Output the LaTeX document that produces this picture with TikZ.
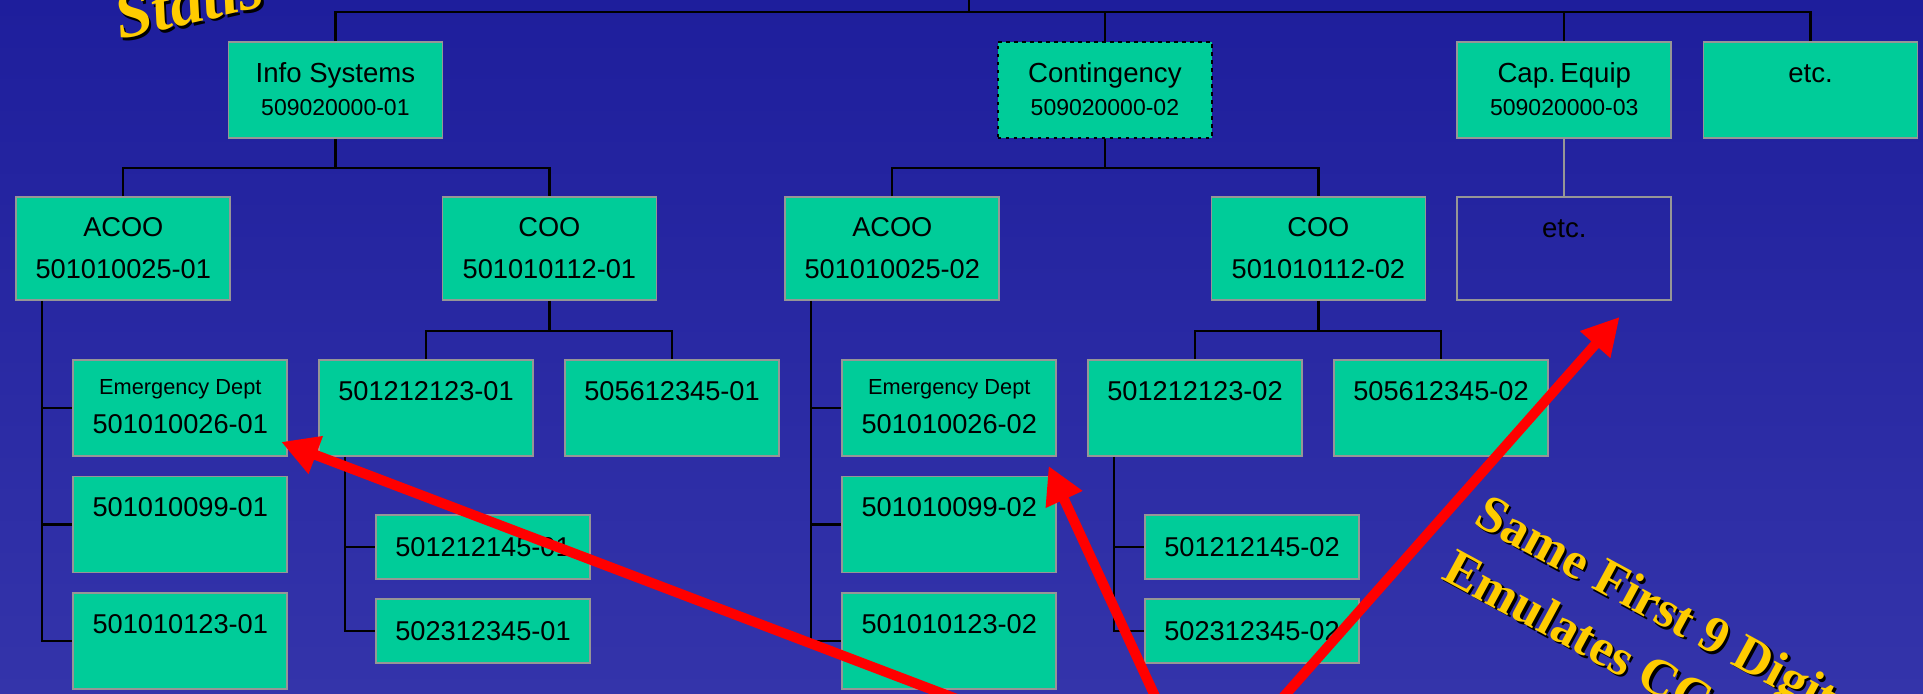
\documentclass[tikz,border=0pt]{standalone}
\usepackage{fontspec}
\setmainfont{Liberation Sans}
\newfontfamily\serifb{Liberation Serif}
\usetikzlibrary{arrows.meta,calc}
\definecolor{bgtop}{RGB}{30,30,156}
\definecolor{bgbot}{RGB}{52,52,170}
\definecolor{boxgreen}{RGB}{0,204,153}
\definecolor{boxgray}{RGB}{150,150,150}
\definecolor{titleyellow}{RGB}{255,204,0}
\newcommand\fbig{\fontsize{13.6}{16}\selectfont}
\newcommand\fname{\fontsize{13.8}{16}\selectfont}
\newcommand\fsmall{\fontsize{11.5}{14}\selectfont}
\newcommand\fed{\fontsize{10.9}{13}\selectfont}
\newcommand\fyel{\serifb\bfseries\fontsize{26}{30}\selectfont}
\newcommand\fttl{\serifb\bfseries\itshape\fontsize{33}{38}\selectfont}
% text with a black drop shadow; #1 = kern, #2 = raise (local frame)
\newcommand\shadowed[3]{\makebox[0pt][l]{\kern#1\raisebox{#2}{\textcolor{black}{#3}}}#3}
\begin{document}
\begin{tikzpicture}[x=0.5pt,y=-0.5pt,
  box/.style={draw=boxgray,line width=0.9pt,fill=boxgreen,minimum width=107pt,inner sep=0pt},
  hA/.style={minimum height=48pt},
  hB/.style={minimum height=51.5pt},
  hC/.style={minimum height=32pt},
  lbl/.style={inner sep=0pt,anchor=base,text=black},
  conn/.style={draw=black,line width=1.1pt},
  conng/.style={draw=boxgray,line width=1pt},
  redarrow/.style={draw=red,line width=5pt,-{Triangle[length=18.5pt,width=19pt]}},
  ytext/.style={inner sep=0pt,anchor=base west,text=titleyellow}]
\useasboundingbox (0,0) rectangle (1923,694);
\clip (0,0) rectangle (1923,694);
\fill[top color=bgtop,bottom color=bgbot] (0,0) rectangle (1923,694);

% ---------- boxes ----------
\node[box,hA] (is) at (335.4,90) {};
\node[box,hA,draw=black,line width=0.75pt,dash pattern=on 1.75pt off 2.25pt] (cont) at (1104.9,90) {};
\node[box,hA] (cap) at (1564.3,90) {};
\node[box,hA] (etc1) at (1810.5,90) {};

\node[box,hB] (acoo1) at (123.3,248.5) {};
\node[box,hB] (coo1) at (549.4,248.5) {};
\node[box,hB] (acoo2) at (892.3,248.5) {};
\node[box,hB] (coo2) at (1318.4,248.5) {};
\node[box,hB,fill=none] (etc2) at (1564.3,248.5) {};

\node[box,hA] (ed1) at (180.3,408) {};
\node[box,hA] (s123a) at (426,408) {};
\node[box,hA] (s5056a) at (672,408) {};
\node[box,hA] (n099a) at (180.3,524.5) {};
\node[box,hA] (n123a) at (180.3,641) {};
\node[box,hC] (n145a) at (483,547) {};
\node[box,hC] (n2312a) at (483,631) {};

\node[box,hA] (ed2) at (949.3,408) {};
\node[box,hA] (s123b) at (1195,408) {};
\node[box,hA] (s5056b) at (1441,408) {};
\node[box,hA] (n099b) at (949.3,524.5) {};
\node[box,hA] (n123b) at (949.3,641) {};
\node[box,hC] (n145b) at (1252,547) {};
\node[box,hC] (n2312b) at (1252,631) {};

% ---------- labels ----------
\node[lbl,font=\fname] (is-a) at ($(is.north)+(0,41)$) {Info Systems};
\node[lbl,font=\fsmall] (is-b) at ($(is.north)+(0,74)$) {509020000-01};
\node[lbl,font=\fname] (cont-a) at ($(cont.north)+(0,41)$) {Contingency};
\node[lbl,font=\fsmall] (cont-b) at ($(cont.north)+(0,74)$) {509020000-02};
\node[lbl,font=\fname] (cap-a) at ($(cap.north)+(0,41)$) {Cap.\,Equip};
\node[lbl,font=\fsmall] (cap-b) at ($(cap.north)+(0,74)$) {509020000-03};
\node[lbl,font=\fname] (etc1-a) at ($(etc1.north)+(0,41)$) {etc.};

\node[lbl,font=\fbig] (acoo1-a) at ($(acoo1.north)+(0,40.7)$) {ACOO};
\node[lbl,font=\fbig] (acoo1-b) at ($(acoo1.north)+(0,82)$) {501010025-01};
\node[lbl,font=\fbig] (coo1-a) at ($(coo1.north)+(0,40.7)$) {COO};
\node[lbl,font=\fbig] (coo1-b) at ($(coo1.north)+(0,82)$) {501010112-01};
\node[lbl,font=\fbig] (acoo2-a) at ($(acoo2.north)+(0,40.7)$) {ACOO};
\node[lbl,font=\fbig] (acoo2-b) at ($(acoo2.north)+(0,82)$) {501010025-02};
\node[lbl,font=\fbig] (coo2-a) at ($(coo2.north)+(0,40.7)$) {COO};
\node[lbl,font=\fbig] (coo2-b) at ($(coo2.north)+(0,82)$) {501010112-02};
\node[lbl,font=\fname] (etc2-a) at ($(etc2.north)+(0,41)$) {etc.};

\node[lbl,font=\fed] (ed1-a) at ($(ed1.north)+(0,35)$) {Emergency Dept};
\node[lbl,font=\fbig] (ed1-b) at ($(ed1.north)+(0,74)$) {501010026-01};
\node[lbl,font=\fbig] (s123a-a) at ($(s123a.north)+(0,41.3)$) {501212123-01};
\node[lbl,font=\fbig] (s5056a-a) at ($(s5056a.north)+(0,41.3)$) {505612345-01};
\node[lbl,font=\fbig] (n099a-a) at ($(n099a.north)+(0,41.3)$) {501010099-01};
\node[lbl,font=\fbig] (n123a-a) at ($(n123a.north)+(0,41.3)$) {501010123-01};
\node[lbl,font=\fbig] (n145a-a) at ($(n145a.center)+(0,9.7)$) {501212145-01};
\node[lbl,font=\fbig] (n2312a-a) at ($(n2312a.center)+(0,9.7)$) {502312345-01};

\node[lbl,font=\fed] (ed2-a) at ($(ed2.north)+(0,35)$) {Emergency Dept};
\node[lbl,font=\fbig] (ed2-b) at ($(ed2.north)+(0,74)$) {501010026-02};
\node[lbl,font=\fbig] (s123b-a) at ($(s123b.north)+(0,41.3)$) {501212123-02};
\node[lbl,font=\fbig] (s5056b-a) at ($(s5056b.north)+(0,41.3)$) {505612345-02};
\node[lbl,font=\fbig] (n099b-a) at ($(n099b.north)+(0,41.3)$) {501010099-02};
\node[lbl,font=\fbig] (n123b-a) at ($(n123b.north)+(0,41.3)$) {501010123-02};
\node[lbl,font=\fbig] (n145b-a) at ($(n145b.center)+(0,9.7)$) {501212145-02};
\node[lbl,font=\fbig] (n2312b-a) at ($(n2312b.center)+(0,9.7)$) {502312345-02};

% ---------- connectors ----------
\coordinate (root) at (969,-5);
\coordinate (bus0) at (969,12.3);
\draw[conn] (root) -- (bus0);
\draw[conn] (is.north) |- (bus0) -| (etc1.north);
\draw[conn] (cont.north) -- (cont.north |- bus0);
\draw[conn] (cap.north) -- (cap.north |- bus0);

\draw[conn] (is.south) -- ++(0,29.5) coordinate (j1);
\draw[conn] (acoo1.north) |- (j1) -| (coo1.north);
\coordinate (v1) at ($(acoo1.south west)+(26.5,0)$);
\draw[conn] (v1) |- (n123a.west);
\draw[conn] (v1 |- ed1.west) -- (ed1.west);
\draw[conn] (v1 |- n099a.west) -- (n099a.west);
\draw[conn] (coo1.south) -- ++(0,30) coordinate (j2);
\draw[conn] (s123a.north) |- (j2) -| (s5056a.north);
\coordinate (v2) at ($(s123a.south west)+(26.5,0)$);
\draw[conn] (v2) |- (n2312a.west);
\draw[conn] (v2 |- n145a.west) -- (n145a.west);

\draw[conn] (cont.south) -- ++(0,29.5) coordinate (j3);
\draw[conn] (acoo2.north) |- (j3) -| (coo2.north);
\coordinate (v3) at ($(acoo2.south west)+(26.5,0)$);
\draw[conn] (v3) |- (n123b.west);
\draw[conn] (v3 |- ed2.west) -- (ed2.west);
\draw[conn] (v3 |- n099b.west) -- (n099b.west);
\draw[conn] (coo2.south) -- ++(0,30) coordinate (j4);
\draw[conn] (s123b.north) |- (j4) -| (s5056b.north);
\coordinate (v4) at ($(s123b.south west)+(26.5,0)$);
\draw[conn] (v4) |- (n2312b.west);
\draw[conn] (v4 |- n145b.west) -- (n145b.west);

\draw[conng] (cap.south) -- (etc2.north);

% ---------- red arrows ----------
\coordinate (r1) at (1012,720);
\coordinate (r2) at (1166,720);
\coordinate (r3) at (1263,720);
\draw[redarrow] (r1) -- ($(ed1.south east)+(-7,-15)$);
\draw[redarrow] (r2) -- ($(ed2.south east)+(-8.6,9)$);
\draw[redarrow] (r3) -- ($(etc2.south east)+(-52.6,16)$);

% ---------- yellow captions ----------
\node[ytext,font=\fttl,rotate=13] (t0) at (120,40) {\shadowed{0.9pt}{-1.5pt}{Statis}};
\node[ytext,font=\fyel,rotate=-28.5] (t1) at (1471.7,523.3) {\shadowed{1.7pt}{-0.5pt}{Same First 9 Digits}};
\node[ytext,font=\fyel,rotate=-28.5] (t2) at (1440,578.3) {\shadowed{1.7pt}{-0.5pt}{Emulates CC}};
\end{tikzpicture}
\end{document}
